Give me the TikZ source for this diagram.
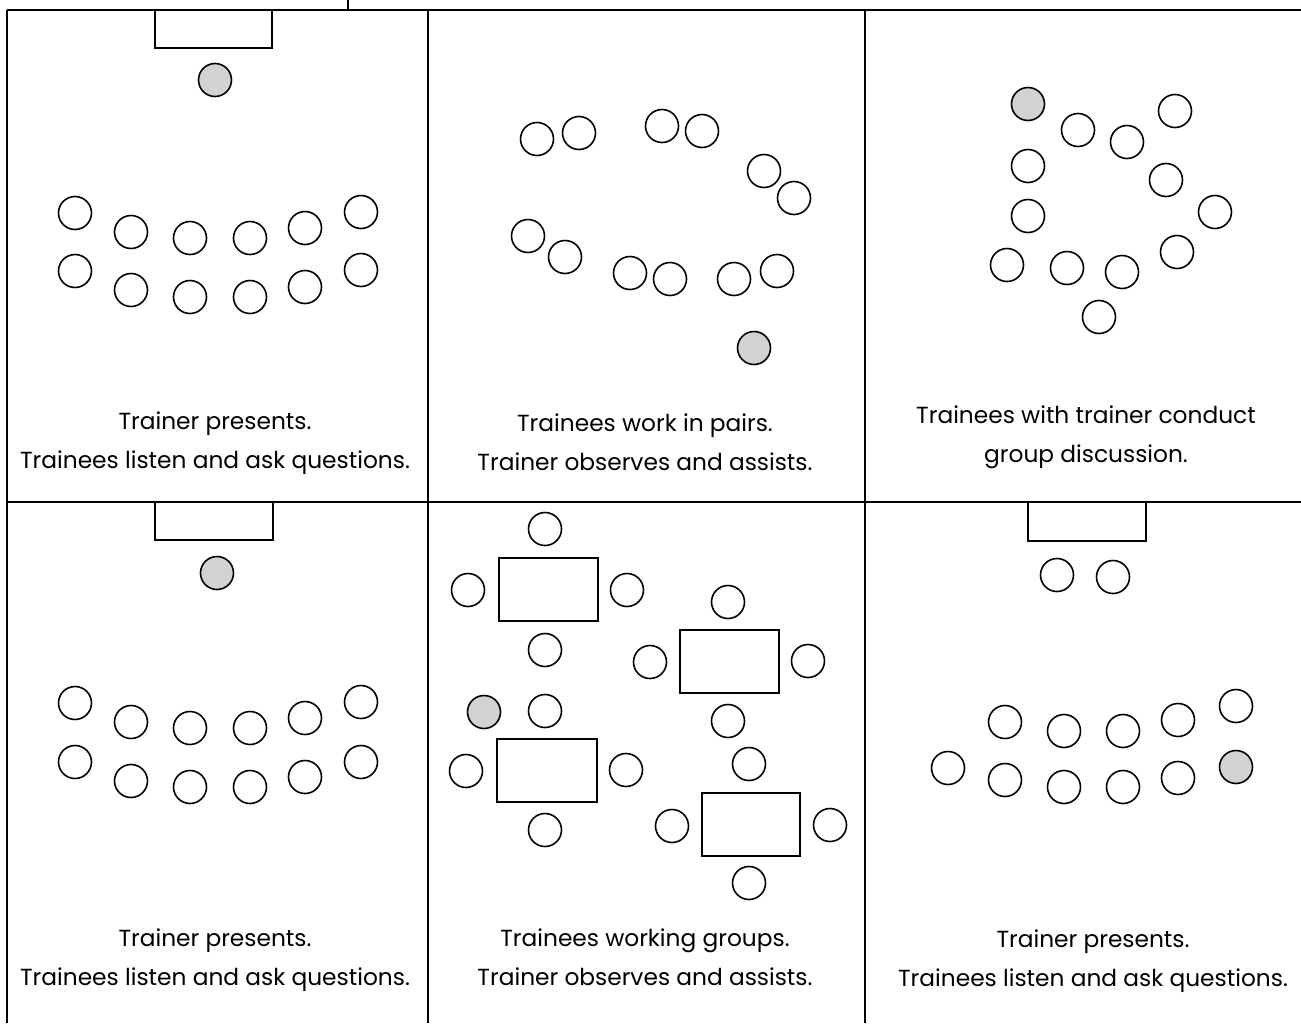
\documentclass[tikz,border=0pt]{standalone}
\usepackage{fontspec}
\setmainfont{Poppins}
\usepackage{tikz}
\usetikzlibrary{positioning}

\begin{document}
\begin{tikzpicture}[x=1pt, y=-1pt, line width=1.5pt,
    seat/.style={draw, circle, minimum size=33pt, inner sep=0pt, line width=1.6pt},
    trainer/.style={seat, fill=gray!35},
    desk/.style={draw, rectangle, inner sep=0pt, line width=1.6pt},
    caption/.style={align=center, font=\fontsize{23.3}{39}\selectfont}]
    \useasboundingbox (0,0) rectangle (1301,1023);
    % Frame
    \draw (7,10) -- (1301,10);
    \draw (348,0) -- (348,10);
    \draw (7,10) -- (7,1023);
    \draw (428,10) -- (428,1023);
    \draw (865,10) -- (865,1023);
    \draw (7,502) -- (1301,502);
    % Panel 1: trainer presents
    \node[desk, minimum width=117pt, minimum height=38pt] (deska) at (213.5,29) {};
    \node[trainer] (tra) at (215,80) {};
    \foreach \x/\y [count=\i] in {75/213, 131/232, 190/238, 250/238, 305/228, 361/212,
        75/271, 131/290, 190/297, 250/297, 305/287, 361/270}
        \node[seat] (sa\i) at (\x,\y) {};
    \node[caption] (capa) at (215,443) {Trainer presents.\\Trainees listen and ask questions.};
    % Panel 2: pairs
    \foreach \x/\y [count=\i] in {537/139, 579/133, 662/126, 702/131, 764/171, 794/198,
        528/236, 565/257, 630/273, 670/279, 734/279, 777/271}
        \node[seat] (sb\i) at (\x,\y) {};
    \node[trainer] (trb) at (754,348) {};
    \node[caption] (capb) at (645,442) {Trainees work in pairs.\\Trainer observes and assists.};
    % Panel 3: group discussion
    \node[trainer] (trc) at (1028,104) {};
    \foreach \x/\y [count=\i] in {1078/130, 1127/142, 1175/111, 1028/166, 1166/180, 1215/212,
        1028/216, 1007/265, 1067/268, 1122/272, 1177/252, 1099/317}
        \node[seat] (sc\i) at (\x,\y) {};
    \node[caption] (capc) at (1086,437) {Trainees with trainer conduct\\group discussion.};
    % Panel 4: trainer presents
    \node[desk, minimum width=118pt, minimum height=38pt] (deskd) at (214,521) {};
    \node[trainer] (trd) at (217,573) {};
    \foreach \x/\y [count=\i] in {75/703, 131/722, 190/728, 250/728, 305/718, 361/702,
        75/762, 131/781, 190/787, 250/787, 305/777, 361/762}
        \node[seat] (sd\i) at (\x,\y) {};
    \node[caption] (capd) at (215,960) {Trainer presents.\\Trainees listen and ask questions.};
    % Panel 5: working groups
    \node[desk, minimum width=99pt, minimum height=63pt] (tablea) at (548.5,589.5) {};
    \node[desk, minimum width=99pt, minimum height=63pt] (tableb) at (729.5,661.5) {};
    \node[desk, minimum width=100pt, minimum height=63pt] (tablec) at (547,770.5) {};
    \node[desk, minimum width=98pt, minimum height=63pt] (tabled) at (751,824.5) {};
    \foreach \x/\y [count=\i] in {545/529, 468/590, 627/590, 545/650,
        728/602, 650/662, 808/661, 728/721,
        545/711, 466/771, 626/770, 545/830,
        749/764, 672/826, 830/825, 749/883}
        \node[seat] (se\i) at (\x,\y) {};
    \node[trainer] (tre) at (484,712) {};
    \node[caption] (cape) at (645,957) {Trainees working groups.\\Trainer observes and assists.};
    % Panel 6: trainer presents
    \node[desk, minimum width=118pt, minimum height=39pt] (deskf) at (1087,521.5) {};
    \foreach \x/\y [count=\i] in {1057/575, 1113/577,
        1005/722, 1064/731, 1123/731, 1178/720, 1236/706,
        948/768, 1005/780, 1064/787, 1123/787, 1178/778}
        \node[seat] (sf\i) at (\x,\y) {};
    \node[trainer] (trf) at (1236,767) {};
    \node[caption] (capf) at (1093,961) {Trainer presents.\\Trainees listen and ask questions.};
\end{tikzpicture}
\end{document}
